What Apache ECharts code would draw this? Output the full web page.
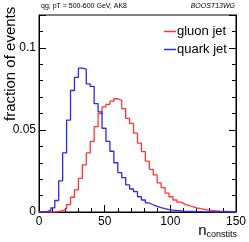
<!DOCTYPE html>
<html><head><meta charset="utf-8">
<script src="https://cdn.jsdelivr.net/npm/echarts@6/dist/echarts.min.js"></script>
<style>html,body{margin:0;padding:0;background:#fff}#c{width:249px;height:242px}</style>
</head><body><div id="c"></div>
<script>
// bin left edges (width 3), 0..147
var binEdges = [];
for (var i = 0; i <= 150; i += 3) binEdges.push(i);

var quarkJet = [0,0.0002,0.001,0.0025,0.007,0.019,0.036,0.056,0.074,0.082,
  0.0876,0.087,0.078,0.0765,0.066,0.061,0.051,0.043,0.037,0.030,
  0.024,0.021,0.0165,0.014,0.0124,0.0093,0.0073,0.0055,0.0044,0.0034,
  0.0026,0.002,0.0015,0.0012,0.0009,0.0007,0.0005,0.0004,0.0003,0.0002,
  0.0002,0.0001,0.0001,0.0001,0,0,0,0,0,0];
var gluonJet = [0,0,0,0,0.0003,0.0008,0.002,0.0045,0.009,0.0135,
  0.0205,0.0287,0.036,0.043,0.052,0.060,0.064,0.0655,0.0675,0.069,
  0.068,0.063,0.057,0.054,0.048,0.042,0.0368,0.031,0.026,0.0226,
  0.0178,0.0148,0.0115,0.0093,0.0073,0.006,0.0048,0.004,0.0032,0.0025,
  0.002,0.0016,0.0012,0.0009,0.0007,0.0005,0.0004,0.0003,0.0002,0.0001];
var seriesNames = ['gluon jet', 'quark jet'];
var xTicks = [0, 50, 100, 150];
var yTicks = [0, 0.05, 0.1];

function toSteps(vals) {
  var d = [];
  for (var i = 0; i < vals.length; i++) d.push([binEdges[i], vals[i]]);
  d.push([binEdges[vals.length], vals[vals.length - 1]]);
  return d;
}

var FONT = 'Liberation Sans, Arial, sans-serif';
var chart = echarts.init(document.getElementById('c'), null, {renderer: 'canvas'});
var yLabelFmt = function (v) { return yTicks.indexOf(+v.toFixed(3)) >= 0 ? String(+v.toFixed(3)) : ''; };
chart.setOption({
  animation: false,
  grid: {left: 39, right: 13, top: 15, bottom: 30, show: true, borderColor: '#000', borderWidth: 1},
  xAxis: {
    type: 'value', min: 0, max: 150, interval: 50,
    axisLine: {lineStyle: {color: '#000', width: 1}},
    axisTick: {inside: true, length: 7, lineStyle: {color: '#000'}},
    minorTick: {show: true, splitNumber: 5, length: 4, lineStyle: {color: '#000'}},
    splitLine: {show: false},
    axisLabel: {color: '#000', fontSize: 12, fontFamily: FONT, margin: 4,
      formatter: function (v) { return xTicks.indexOf(v) >= 0 ? String(v) : ''; }}
  },
  yAxis: [{
    type: 'value', min: 0, max: 0.12, interval: 0.05,
    axisLine: {show: true, lineStyle: {color: '#000', width: 1}},
    axisTick: {show: true, inside: true, length: 7, lineStyle: {color: '#000'}},
    minorTick: {show: true, splitNumber: 5, length: 4, lineStyle: {color: '#000'}},
    splitLine: {show: false},
    axisLabel: {color: '#000', fontSize: 12, fontFamily: FONT, margin: 3, formatter: yLabelFmt}
  }, {
    type: 'value', min: 0, max: 0.12, interval: 0.05, position: 'right',
    axisLine: {show: true, lineStyle: {color: '#000', width: 1}},
    axisTick: {show: true, inside: true, length: 7, lineStyle: {color: '#000'}},
    minorTick: {show: true, splitNumber: 5, length: 4, lineStyle: {color: '#000'}},
    splitLine: {show: false},
    axisLabel: {show: false}
  }],
  legend: {
    orient: 'vertical', left: 159, top: 20, itemGap: 5, itemWidth: 12, itemHeight: 1.5,
    icon: 'rect', data: seriesNames,
    textStyle: {color: '#000', fontSize: 13, fontFamily: FONT, padding: [0, 0, 0, -4]}
  },
  graphic: [
    {type: 'text', left: 41, top: 3, style: {text: 'qg, pT = 500-600 GeV, AK8', font: '7px ' + FONT, fill: '#000'}},
    {type: 'text', right: 14, top: 3, style: {text: 'BOOST13WG', font: 'italic 7px ' + FONT, fill: '#000'}},
    {type: 'text', x: 3, y: 121, rotation: Math.PI / 2, style: {text: 'fraction of events', font: '15px ' + FONT, fill: '#000', align: 'left', verticalAlign: 'top'}},
    {type: 'text', right: 12, top: 223, style: {text: '{n|n}{s|constits}', fill: '#000',
      rich: {n: {fontSize: 15, fontFamily: FONT, fill: '#000'}, s: {fontSize: 9, fontFamily: FONT, fill: '#000', padding: [9, 0, 0, 0]}}}}
  ],
  series: [
    {name: seriesNames[0], type: 'line', step: 'end', symbol: 'none', data: toSteps(gluonJet),
      lineStyle: {color: '#ff3535', width: 1.3}, itemStyle: {color: '#ff3535'}},
    {name: seriesNames[1], type: 'line', step: 'end', symbol: 'none', data: toSteps(quarkJet),
      lineStyle: {color: '#2a2af0', width: 1.3}, itemStyle: {color: '#2a2af0'}}
  ]
});
</script></body></html>
